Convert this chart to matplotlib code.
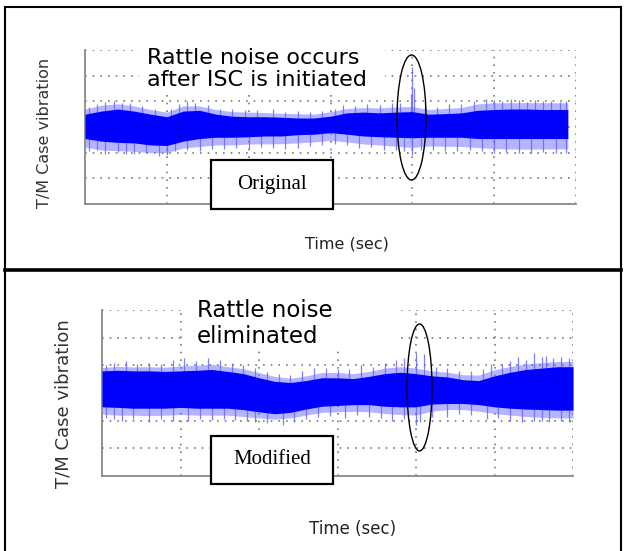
import matplotlib
matplotlib.use('Agg')
import matplotlib.pyplot as plt
from matplotlib.patches import Ellipse, Rectangle
from matplotlib.lines import Line2D

W, H = 624, 551

# ---- upper panel: original (envelope) ----
t1 = [0.0, 0.2, 0.4, 0.6, 0.8, 1.0, 1.2, 1.4, 1.6, 1.8, 2.0, 2.2, 2.4, 2.6, 2.8, 3.0,
      3.2, 3.4, 3.6, 3.8, 4.0, 4.2, 4.4, 4.6, 4.8, 5.0, 5.2, 5.4, 5.6, 5.8, 5.9]
core_top1 = [0.50, 0.62, 0.70, 0.62, 0.50, 0.40, 0.62, 0.65, 0.50, 0.42, 0.40, 0.40, 0.38, 0.35, 0.35, 0.42,
             0.55, 0.58, 0.55, 0.58, 0.60, 0.50, 0.52, 0.55, 0.65, 0.68, 0.70, 0.70, 0.68, 0.68, 0.68]
core_bot1 = [-0.45, -0.55, -0.60, -0.62, -0.70, -0.72, -0.55, -0.45, -0.40, -0.40, -0.38, -0.35, -0.35, -0.30, -0.28, -0.22,
             -0.28, -0.35, -0.38, -0.40, -0.42, -0.40, -0.40, -0.40, -0.45, -0.45, -0.45, -0.45, -0.45, -0.45, -0.45]
fuzz_top1 = [0.70, 0.85, 0.90, 0.82, 0.68, 0.58, 0.82, 0.82, 0.68, 0.60, 0.58, 0.56, 0.53, 0.52, 0.50, 0.60,
             0.72, 0.76, 0.74, 0.78, 0.80, 0.68, 0.72, 0.76, 0.90, 0.94, 0.95, 0.95, 0.95, 0.94, 0.94]
fuzz_bot1 = [-0.78, -0.90, -0.92, -0.95, -1.00, -1.00, -0.82, -0.76, -0.70, -0.70, -0.66, -0.66, -0.65, -0.62, -0.58, -0.52,
             -0.58, -0.66, -0.70, -0.75, -0.80, -0.74, -0.75, -0.76, -0.80, -0.84, -0.86, -0.86, -0.86, -0.85, -0.85]
up_x1 = [0.05, 0.15, 0.25, 0.35, 0.45, 0.55, 0.7, 0.85, 1.05, 1.15, 1.25, 1.35, 1.5, 1.65, 1.8, 1.95,
         2.1, 2.3, 2.45, 2.6, 2.75, 2.9, 3.05, 3.15, 3.3, 3.45, 3.6, 3.75, 3.85, 3.98, 4.0, 4.02,
         4.15, 4.3, 4.45, 4.6, 4.75, 4.9, 5.0, 5.1, 5.2, 5.3, 5.4, 5.5, 5.6, 5.7, 5.8, 5.88]
up_y1 = [0.78, 0.9, 0.98, 1.02, 0.92, 0.95, 0.8, 0.72, 0.7, 0.9, 1.0, 0.92, 0.85, 0.72, 0.7, 0.66,
         0.65, 0.7, 0.6, 0.62, 0.6, 0.62, 0.72, 0.85, 0.82, 0.9, 0.85, 0.95, 0.92, 1.3, 2.35, 1.5,
         0.8, 0.78, 0.9, 0.88, 1.0, 1.1, 1.05, 1.0, 1.08, 1.05, 0.98, 1.05, 1.0, 1.02, 0.98, 1.0]
dn_x1 = [0.05, 0.15, 0.25, 0.4, 0.5, 0.6, 0.75, 0.9, 1.0, 1.1, 1.25, 1.4, 1.55, 1.7, 1.85, 2.0,
         2.15, 2.3, 2.45, 2.6, 2.75, 2.9, 3.05, 3.2, 3.35, 3.5, 3.65, 3.8, 3.9, 4.0, 4.1, 4.25,
         4.4, 4.55, 4.7, 4.85, 5.0, 5.15, 5.3, 5.45, 5.6, 5.75, 5.88]
dn_y1 = [-0.95, -0.88, -1.05, -0.98, -1.05, -1.05, -1.0, -1.12, -1.1, -0.95, -0.9, -0.95, -0.85, -0.85, -0.82, -0.85,
         -0.78, -0.8, -0.85, -0.82, -0.75, -0.72, -0.65, -0.72, -0.82, -0.78, -0.88, -0.9, -0.92, -1.1, -0.9, -0.88,
         -0.92, -0.95, -0.9, -0.95, -1.0, -0.98, -1.0, -1.02, -0.98, -1.0, -1.02]

# ---- lower panel: modified ----
t2 = [0.0, 0.2, 0.4, 0.6, 0.8, 1.0, 1.2, 1.4, 1.6, 1.8, 2.0, 2.2, 2.4, 2.6, 2.8, 3.0,
      3.2, 3.4, 3.6, 3.8, 4.0, 4.2, 4.4, 4.6, 4.8, 5.0, 5.2, 5.4, 5.6, 5.8, 6.0]
core_top2 = [0.80, 0.82, 0.80, 0.80, 0.78, 0.80, 0.82, 0.85, 0.78, 0.70, 0.55, 0.42, 0.38, 0.45, 0.55, 0.55,
             0.52, 0.60, 0.70, 0.75, 0.70, 0.62, 0.58, 0.48, 0.45, 0.62, 0.75, 0.85, 0.90, 0.95, 0.95]
core_bot2 = [-0.50, -0.52, -0.55, -0.55, -0.55, -0.52, -0.55, -0.55, -0.55, -0.60, -0.68, -0.75, -0.70, -0.58, -0.48, -0.45,
             -0.42, -0.42, -0.48, -0.50, -0.50, -0.40, -0.38, -0.38, -0.42, -0.50, -0.55, -0.58, -0.60, -0.62, -0.62]
fuzz_top2 = [0.92, 0.96, 0.94, 0.95, 0.93, 0.98, 1.00, 1.04, 0.95, 0.88, 0.74, 0.60, 0.53, 0.62, 0.74, 0.74,
             0.70, 0.78, 0.90, 0.95, 0.90, 0.80, 0.75, 0.66, 0.65, 0.84, 0.96, 1.05, 1.10, 1.14, 1.14]
fuzz_bot2 = [-0.76, -0.80, -0.80, -0.82, -0.80, -0.78, -0.80, -0.80, -0.80, -0.85, -0.90, -0.95, -0.90, -0.80, -0.70, -0.68,
             -0.66, -0.68, -0.74, -0.78, -0.80, -0.66, -0.60, -0.60, -0.66, -0.74, -0.80, -0.85, -0.88, -0.90, -0.90]
up_x2 = [0.05, 0.15, 0.3, 0.45, 0.6, 0.75, 0.9, 1.05, 1.2, 1.35, 1.5, 1.65, 1.8, 1.95, 2.1, 2.25,
         2.4, 2.55, 2.7, 2.85, 3.0, 3.15, 3.3, 3.45, 3.6, 3.75, 3.85, 4.0, 4.1, 4.25, 4.4, 4.55,
         4.7, 4.85, 4.95, 5.1, 5.2, 5.3, 5.4, 5.5, 5.6, 5.65, 5.75, 5.85, 5.95]
up_y2 = [1.0, 1.1, 1.15, 1.05, 1.1, 1.05, 1.2, 1.25, 1.15, 1.25, 1.2, 1.1, 1.0, 0.9, 0.75, 0.7,
         0.65, 0.8, 0.9, 0.92, 0.88, 0.85, 1.0, 0.95, 1.1, 1.2, 1.25, 1.45, 1.4, 0.95, 0.9, 0.8,
         0.78, 0.85, 1.05, 1.05, 1.15, 1.3, 1.2, 1.45, 1.3, 1.35, 1.25, 1.3, 1.25]
dn_x2 = [0.05, 0.15, 0.25, 0.4, 0.6, 0.75, 0.9, 1.1, 1.25, 1.4, 1.55, 1.7, 1.85, 1.95, 2.1, 2.3,
         2.45, 2.6, 2.75, 2.9, 3.1, 3.25, 3.4, 3.55, 3.7, 3.85, 4.0, 4.05, 4.2, 4.4, 4.55, 4.7,
         4.9, 5.05, 5.2, 5.35, 5.5, 5.6, 5.7, 5.85, 5.95]
dn_y2 = [-0.9, -0.95, -1.0, -0.95, -1.05, -0.95, -1.0, -1.0, -0.95, -0.98, -0.95, -0.98, -1.0, -1.05, -1.1, -1.15,
         -1.05, -0.95, -0.88, -0.82, -0.9, -0.8, -0.85, -0.9, -1.0, -0.95, -1.15, -1.05, -0.85, -0.85, -0.75, -0.8,
         -0.95, -0.9, -1.0, -1.05, -1.0, -1.02, -1.05, -1.0, -1.05]


def fx(x):
    return x / W


def fy(y):
    return 1 - y / H


def trace(ax, t, ct, cb, ot, ob, ux, uy, dx, dy):
    ax.fill_between(t, ob, ot, color='#6a6aff', alpha=0.5, lw=0, zorder=2)
    ax.vlines(ux, 0, uy, color='#6666ff', lw=0.9, alpha=0.85, zorder=2)
    ax.vlines(dx, dy, 0, color='#6666ff', lw=0.9, alpha=0.85, zorder=2)
    ax.fill_between(t, cb, ct, color='#0000ff', lw=0, zorder=3)


def style(ax):
    ax.set_xlim(0, 6)
    ax.set_ylim(-3, 3)
    ax.set_xticks(range(7))
    ax.set_yticks(range(-3, 4))
    ax.tick_params(length=0, labelbottom=False, labelleft=False)
    ax.set_axisbelow(True)
    ax.grid(True, color='#7a7a7a', lw=1.2, linestyle=(0, (1, 3.6)))
    for s in ['top', 'right']:
        ax.spines[s].set_visible(False)
    for s in ['left', 'bottom']:
        ax.spines[s].set_color('#8a8a8a')
        ax.spines[s].set_linewidth(1.3)


fig = plt.figure(figsize=(W / 100, H / 100), dpi=100)

ax1 = fig.add_axes([fx(85), fy(204), (576 - 85) / W, (204 - 50) / H])
style(ax1)
trace(ax1, t1, core_top1, core_bot1, fuzz_top1, fuzz_bot1, up_x1, up_y1, dn_x1, dn_y1)
ax1.add_patch(Ellipse((3.99, 0.37), 0.354, 4.87, fill=False, ec='black', lw=1.0, zorder=5))

ax2 = fig.add_axes([fx(102), fy(476), (573 - 102) / W, (476 - 310) / H])
style(ax2)
trace(ax2, t2, core_top2, core_bot2, fuzz_top2, fuzz_bot2, up_x2, up_y2, dn_x2, dn_y2)
ax2.add_patch(Ellipse((4.045, 0.20), 0.318, 4.59, fill=False, ec='black', lw=1.0, zorder=5))

# white patches behind the callout text
for (x0, y0, x1, y1) in [(139, 44, 385, 90), (185, 296, 397, 350)]:
    fig.add_artist(Rectangle((fx(x0), fy(y1)), (x1 - x0) / W, (y1 - y0) / H,
                             transform=fig.transFigure, fc='white', ec='none', zorder=1))

fig.text(fx(147), fy(64), 'Rattle noise occurs', fontsize=16, va='baseline', zorder=2)
fig.text(fx(147), fy(86), 'after ISC is initiated', fontsize=16, va='baseline', zorder=2)
fig.text(fx(197), fy(317), 'Rattle noise', fontsize=16.5, va='baseline', zorder=2)
fig.text(fx(197), fy(343), 'eliminated', fontsize=16.5, va='baseline', zorder=2)

# labelled boxes
for (y0, y1, label) in [(160, 209, 'Original'), (436, 484, 'Modified')]:
    fig.add_artist(Rectangle((fx(211), fy(y1)), 122 / W, (y1 - y0) / H,
                             transform=fig.transFigure, fc='white', ec='black', lw=1.6, zorder=1))
    fig.text(fx(272), fy((y0 + y1) / 2), label, family='Liberation Serif', fontsize=15,
             ha='center', va='center', zorder=2)

# axis titles
fig.text(fx(45), fy(133), 'T/M Case vibration', rotation=90, fontsize=11.5,
         color='#333333', ha='center', va='center')
fig.text(fx(63), fy(404), 'T/M Case vibration', rotation=90, fontsize=13,
         color='#333333', ha='center', va='center')
fig.text(fx(347), fy(244), 'Time (sec)', fontsize=11.5, color='#222222', ha='center', va='center')
fig.text(fx(353), fy(529), 'Time (sec)', fontsize=12, color='#222222', ha='center', va='center')

# panel frames
frame = [((5, 621), (7, 7), 1.5), ((5, 5), (7, 551), 1.5), ((621, 621), (7, 551), 1.5),
         ((5, 621), (270, 270), 2.6)]
for xs, ys, lw in frame:
    fig.add_artist(Line2D([fx(xs[0]), fx(xs[1])], [fy(ys[0]), fy(ys[1])],
                          transform=fig.transFigure, color='black', lw=lw))

fig.savefig('out.png', dpi=100)
